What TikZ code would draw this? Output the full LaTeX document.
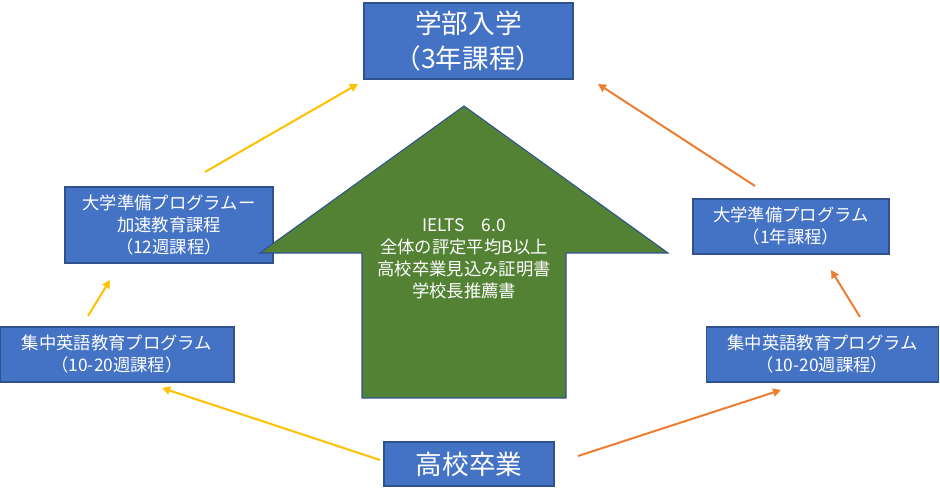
\documentclass[tikz,border=0pt]{standalone}
\usepackage{fontspec}
\setmainfont{Noto Sans CJK JP}
\usepackage{tikz}
\usetikzlibrary{arrows.meta,positioning}
\definecolor{boxblue}{RGB}{68,114,196}
\definecolor{edgenavy}{RGB}{47,82,143}
\definecolor{leafgreen}{RGB}{84,130,53}
\definecolor{goldyellow}{RGB}{255,192,0}
\definecolor{sunorange}{RGB}{237,125,49}
\tikzset{
  base/.style={align=center, inner sep=2pt, text=white, font=\fontsize{13pt}{16.5pt}\selectfont},
  box/.style={base, rectangle, draw=edgenavy, fill=boxblue, line width=0.8pt},
  bigbox/.style={box, font=\fontsize{20pt}{26pt}\selectfont},
  arr/.style={-{Triangle[length=6pt,width=6pt]}, line width=1.5pt},
  arry/.style={arr, draw=goldyellow, color=goldyellow},
  arro/.style={arr, draw=sunorange, color=sunorange},
}
\begin{document}
\begin{tikzpicture}[x=0.75pt,y=-0.75pt]
  \useasboundingbox (0,0) rectangle (940,498);
  % boxes
  \node[bigbox,minimum width=156.75pt,minimum height=57pt] (uni) at (468.5,41)  {学部入学\\（3年課程）};
  \node[box,minimum width=156pt,minimum height=57pt]      (fast) at (169,225)   {大学準備プログラムー\\加速教育課程\\（12週課程）};
  \node[box,minimum width=175.5pt,minimum height=41.25pt] (engl) at (117,354.5) {集中英語教育プログラム\\（10-20週課程）};
  \node[box,minimum width=147pt,minimum height=41.25pt]   (prep) at (791,226.5) {大学準備プログラム\\（1年課程）};
  \node[box,minimum width=174pt,minimum height=41.25pt]   (engr) at (822.5,354.5) {集中英語教育プログラム\\（10-20週課程）};
  \node[bigbox,minimum width=127.5pt,minimum height=33pt] (hs) at (469,464)     {高校卒業};
  % big arrow
  \draw[draw=edgenavy, fill=leafgreen, line width=0.8pt]
    (464,106) -- (668,253) -- (566,253) -- (566,398) -- (362,398) -- (362,253) -- (260,253) -- cycle;
  \node[base] (req) at (464,259) {IELTS　6.0\\全体の評定平均B以上\\高校卒業見込み証明書\\学校長推薦書};
  % arrow ends
  \coordinate (y1s) at (380,460); \coordinate (y1e) at (162,388);
  \coordinate (y2s) at (88,316);  \coordinate (y2e) at (110,280);
  \coordinate (y3s) at (205,172); \coordinate (y3e) at (358,84);
  \coordinate (o1s) at (578,456); \coordinate (o1e) at (781,390);
  \coordinate (o2s) at (860,317); \coordinate (o2e) at (831,270);
  \coordinate (o3s) at (755,186); \coordinate (o3e) at (598,84);
  \foreach \a/\b in {y1s/y1e,y2s/y2e,y3s/y3e}{\draw[arry] (\a) -- (\b);}
  \foreach \a/\b in {o1s/o1e,o2s/o2e,o3s/o3e}{\draw[arro] (\a) -- (\b);}
\end{tikzpicture}
\end{document}
